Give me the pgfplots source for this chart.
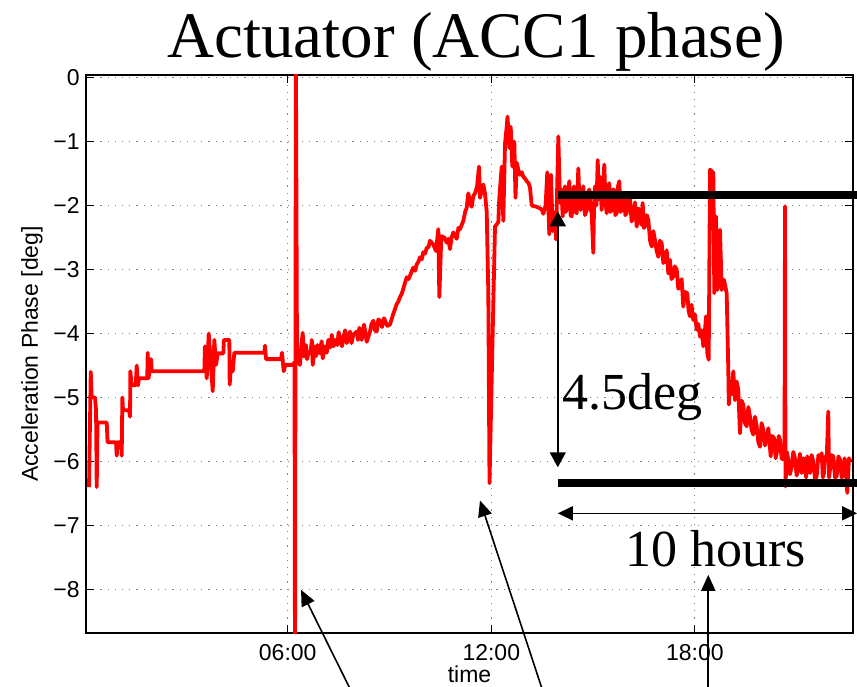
\documentclass[border=0pt]{standalone}
\usepackage{pgfplots}
\pgfplotsset{compat=1.18}
\usepackage{fontspec}
\setmainfont{Liberation Serif}
\newfontfamily\hel{Liberation Sans}
\usetikzlibrary{arrows.meta}
\pgfplotstableread{
x y
0.144 -6.40
0.195 -4.60
0.224 -5.00
0.321 -5.00
0.351 -5.20
0.371 -6.40
0.395 -5.39
0.666 -5.39
0.690 -5.70
0.940 -5.70
0.961 -5.91
0.984 -5.70
1.087 -5.70
1.108 -5.91
1.126 -5.00
1.146 -5.20
1.323 -5.20
1.353 -5.30
1.362 -4.59
1.400 -4.81
1.520 -4.81
1.550 -4.50
1.588 -4.81
1.618 -4.70
1.860 -4.70
1.874 -4.30
1.898 -4.70
1.972 -4.40
1.992 -4.59
3.542 -4.59
3.560 -4.20
3.613 -4.70
3.672 -4.00
3.790 -4.90
3.837 -4.10
3.887 -4.49
3.937 -4.31
4.102 -4.31
4.120 -4.10
4.279 -4.10
4.290 -4.80
4.329 -4.49
4.379 -4.59
4.426 -4.30
5.311 -4.30
5.330 -4.19
5.361 -4.40
5.803 -4.40
5.832 -4.30
5.882 -4.59
5.929 -4.49
6.150 -4.49
6.200 -4.45
6.215 -9.50
6.240 0.50
6.274 -4.40
6.362 -4.49
6.400 -4.20
6.442 -3.99
6.480 -4.36
6.539 -4.18
6.570 -4.40
6.607 -4.31
6.678 -4.28
6.710 -4.10
6.737 -4.49
6.805 -4.20
6.840 -4.35
6.884 -4.18
6.952 -4.31
7.000 -4.12
7.032 -4.39
7.099 -4.20
7.150 -4.30
7.197 -4.10
7.250 -4.22
7.297 -4.02
7.350 -4.20
7.394 -4.10
7.462 -4.18
7.500 -3.98
7.541 -4.06
7.600 -4.20
7.639 -4.07
7.690 -3.95
7.739 -4.15
7.790 -4.05
7.836 -3.97
7.880 -4.15
7.933 -4.02
8.034 -3.97
8.070 -4.10
8.110 -3.91
8.181 -4.10
8.249 -3.86
8.290 -4.00
8.328 -4.13
8.425 -3.97
8.470 -3.85
8.523 -3.80
8.570 -3.95
8.623 -3.97
8.670 -3.78
8.720 -3.80
8.780 -3.90
8.838 -3.76
8.935 -3.88
9.015 -3.86
9.112 -3.69
9.160 -3.62
9.212 -3.54
9.260 -3.50
9.309 -3.43
9.360 -3.38
9.407 -3.30
9.450 -3.22
9.507 -3.12
9.560 -3.15
9.625 -3.07
9.702 -2.97
9.750 -3.02
9.802 -2.92
9.850 -2.88
9.899 -2.81
9.950 -2.84
9.996 -2.73
10.050 -2.75
10.096 -2.66
10.150 -2.65
10.194 -2.55
10.291 -2.61
10.370 -2.71
10.438 -2.37
10.468 -3.43
10.527 -2.48
10.615 -2.50
10.686 -2.58
10.730 -2.52
10.783 -2.68
10.830 -2.50
10.880 -2.42
10.981 -2.52
11.030 -2.35
11.078 -2.37
11.130 -2.30
11.175 -2.24
11.230 -2.10
11.275 -2.03
11.322 -1.81
11.370 -1.95
11.422 -2.02
11.470 -1.85
11.520 -1.81
11.580 -1.70
11.638 -1.39
11.667 -1.88
11.764 -1.67
11.814 -1.81
11.865 -2.10
11.912 -3.37
11.947 -6.34
12.020 -4.50
12.109 -2.33
12.207 -2.26
12.236 -1.88
12.307 -1.39
12.354 -2.24
12.404 -1.03
12.454 -0.77
12.478 -0.61
12.531 -1.10
12.572 -0.77
12.619 -1.39
12.678 -1.00
12.713 -1.88
12.749 -1.33
12.800 -1.45
12.846 -1.52
12.900 -1.48
12.943 -1.55
13.000 -1.58
13.043 -1.62
13.100 -1.65
13.141 -1.72
13.191 -2.00
13.338 -2.02
13.486 -2.06
13.533 -2.13
13.600 -2.00
13.650 -1.48
13.709 -2.45
13.759 -1.52
13.809 -2.40
13.877 -2.10
13.907 -2.53
13.975 -0.92
14.025 -1.96
14.065 -1.75
14.104 -2.17
14.138 -1.85
14.172 -1.70
14.197 -2.10
14.222 -2.02
14.260 -1.80
14.299 -1.62
14.335 -2.15
14.370 -2.17
14.404 -1.80
14.437 -1.70
14.477 -2.10
14.517 -2.12
14.540 -1.80
14.564 -1.42
14.600 -1.95
14.635 -2.07
14.675 -1.80
14.712 -1.70
14.760 -2.15
14.812 -2.07
14.850 -1.80
14.888 -1.75
14.925 -2.05
14.959 -2.12
15.006 -2.74
15.030 -1.95
15.056 -1.70
15.100 -2.00
15.136 -1.29
15.170 -1.90
15.204 -1.55
15.230 -1.85
15.253 -2.07
15.290 -1.70
15.330 -1.36
15.365 -1.95
15.401 -2.12
15.440 -1.75
15.477 -1.65
15.510 -2.10
15.548 -2.07
15.580 -1.75
15.616 -1.75
15.655 -2.15
15.696 -2.12
15.735 -1.70
15.772 -1.62
15.810 -2.10
15.843 -2.07
15.880 -1.80
15.911 -1.81
15.950 -2.15
15.990 -2.12
16.040 -1.85
16.088 -1.91
16.135 -2.25
16.185 -2.17
16.235 -1.95
16.285 -2.33
16.335 -2.05
16.382 -2.07
16.420 -2.30
16.462 -1.96
16.495 -2.35
16.529 -2.33
16.580 -2.15
16.627 -2.22
16.680 -2.55
16.727 -2.64
16.775 -2.40
16.824 -2.54
16.870 -2.70
16.921 -2.80
16.970 -2.55
17.022 -2.59
17.070 -2.90
17.119 -2.85
17.170 -2.70
17.216 -3.06
17.266 -2.85
17.310 -3.15
17.363 -3.11
17.410 -2.95
17.464 -3.00
17.510 -3.30
17.561 -3.27
17.610 -3.15
17.658 -3.58
17.710 -3.35
17.776 -3.37
17.815 -3.65
17.856 -3.73
17.900 -3.55
17.953 -3.79
18.000 -3.70
18.054 -3.94
18.100 -3.85
18.151 -4.05
18.200 -3.95
18.248 -4.20
18.290 -4.00
18.328 -3.73
18.366 -4.31
18.407 -4.41
18.446 -1.44
18.543 -1.49
18.572 -3.37
18.622 -2.17
18.661 -3.32
18.740 -2.38
18.790 -3.32
18.858 -3.16
18.937 -3.37
18.985 -4.57
19.000 -5.11
19.035 -4.78
19.080 -4.95
19.132 -4.59
19.182 -5.04
19.230 -4.75
19.279 -4.88
19.329 -5.56
19.380 -5.05
19.426 -5.11
19.475 -5.40
19.527 -5.45
19.575 -5.15
19.624 -5.30
19.670 -5.50
19.721 -5.58
19.770 -5.30
19.822 -5.45
19.870 -5.70
19.919 -5.77
19.965 -5.40
20.016 -5.50
20.065 -5.75
20.116 -5.66
20.163 -5.48
20.200 -5.70
20.234 -5.92
20.280 -5.60
20.331 -5.63
20.380 -5.95
20.428 -5.82
20.470 -5.60
20.508 -5.66
20.555 -5.95
20.605 -5.97
20.641 -5.95
20.656 -2.01
20.670 -6.39
20.710 -5.85
20.753 -5.97
20.800 -6.20
20.853 -6.08
20.900 -5.85
20.950 -5.95
21.000 -6.22
21.047 -6.10
21.095 -5.88
21.148 -6.18
21.200 -5.95
21.245 -6.03
21.280 -6.25
21.313 -5.92
21.350 -6.10
21.392 -6.18
21.440 -5.90
21.490 -6.00
21.540 -6.28
21.590 -6.23
21.640 -5.90
21.687 -5.97
21.737 -5.87
21.770 -6.25
21.805 -6.18
21.845 -5.92
21.884 -5.97
21.931 -5.22
21.955 -6.25
21.981 -6.13
22.030 -5.90
22.079 -5.92
22.130 -6.25
22.179 -6.23
22.230 -5.92
22.276 -5.97
22.325 -6.25
22.373 -6.21
22.410 -5.95
22.444 -6.08
22.491 -6.49
22.541 -5.95
22.600 -6.00
}\phasedata
\begin{document}
\begin{tikzpicture}
\path[use as bounding box] (-43pt,-26.5pt) rectangle (385.5pt,316.5pt);
\clip (-43pt,-26.5pt) rectangle (385.5pt,316.5pt);
\begin{axis}[
  scale only axis, width=383.5pt, height=279pt,
  at={(0pt,0pt)}, anchor=south west,
  xmin=0.055, xmax=22.66, ymin=-8.68, ymax=0.04,
  xtick={6,12,18}, xticklabels={06:00,12:00,18:00},
  ytick={-8,-7,-6,-5,-4,-3,-2,-1,0},
  yticklabels={−8,−7,−6,−5,−4,−3,−2,−1,0},
  grid=major,
  major grid style={gray, dash pattern=on 0.6pt off 3pt, line width=0.6pt},
  tick align=inside, major tick length=4pt,
  tick style={black, line width=0.5pt},
  axis line style={line width=0.6pt},
  ticklabel style={font=\hel\fontsize{11.5}{13}\selectfont},
  xticklabel style={anchor=base, yshift=-13.5pt, inner sep=0pt},
  yticklabel style={anchor=east, inner sep=0pt, xshift=-3pt},
  clip mode=individual,
]
\addplot[red, line width=1.9pt, line join=round] table[x=x,y=y] {\phasedata};
% title and labels
\node[anchor=base, inner sep=0pt, font=\fontsize{32.5}{36}\selectfont]
  at (axis description cs:0.5085,1) [yshift=8.5pt] {Actuator (ACC1 phase)};
\node[rotate=90, anchor=center, inner sep=0pt, font=\hel\fontsize{11.5}{13}\selectfont]
  at (axis description cs:-0.0704,0.5) {Acceleration Phase [deg]};
\node[anchor=base, inner sep=0pt, font=\hel\fontsize{11.5}{13}\selectfont]
  at (axis description cs:0.5,0) [yshift=-24.5pt] {time};
% annotations
\draw[line width=3.8pt] (axis cs:13.96,-1.84) -- (axis cs:23.3,-1.84);
\draw[line width=3.8pt] (axis cs:13.96,-6.34) -- (axis cs:23.3,-6.34);
\draw[line width=0.8pt, {Triangle[length=7.5pt,width=8pt]}-{Triangle[length=7.5pt,width=8pt]}]
  (axis cs:13.96,-2.09) -- (axis cs:13.96,-6.09);
\draw[line width=0.8pt, {Triangle[length=7.5pt,width=7pt]}-{Triangle[length=7.5pt,width=7pt]}]
  (axis cs:13.96,-6.81) -- (axis cs:22.78,-6.81);
\node[anchor=base west, inner sep=0pt, font=\fontsize{26}{30}\selectfont]
  at (axis cs:14.08,-5.18) {4.5deg};
\node[anchor=base, inner sep=0pt, font=\fontsize{26}{30}\selectfont]
  at (axis cs:18.62,-7.64) {10 hours};
\draw[line width=0.8pt, -{Triangle[length=8pt,width=7pt]}]
  (axis cs:7.995,-9.72) -- (axis cs:6.392,-8.005);
\draw[line width=0.8pt, -{Triangle[length=8pt,width=7pt]}]
  (axis cs:13.60,-9.72) -- (axis cs:11.667,-6.61);
\draw[line width=0.8pt, -{Triangle[length=8pt,width=7pt]}]
  (axis cs:18.395,-9.72) -- (axis cs:18.395,-7.77);
\end{axis}
\end{tikzpicture}
\end{document}
